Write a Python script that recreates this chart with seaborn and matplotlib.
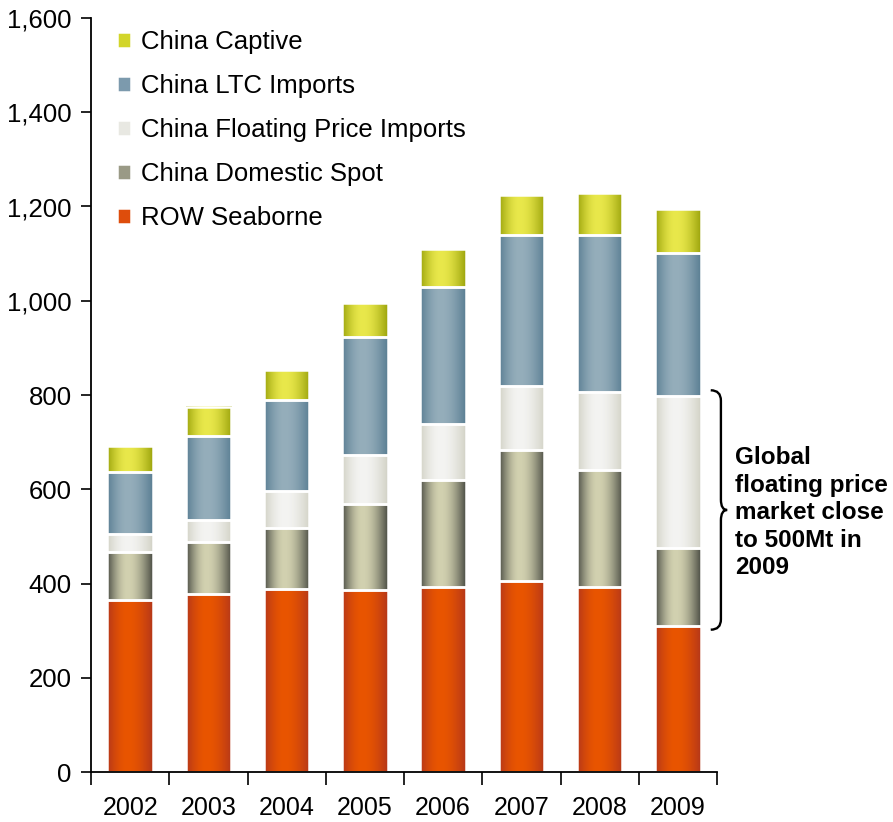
import numpy as np
import pandas as pd
import matplotlib
matplotlib.use('Agg')
import matplotlib.pyplot as plt
from matplotlib.path import Path
from matplotlib.patches import PathPatch
from matplotlib.colors import to_rgb
from matplotlib.ticker import FuncFormatter, FixedLocator
import seaborn as sns

# Data (Mt)
years = [2002, 2003, 2004, 2005, 2006, 2007, 2008, 2009]
row_seaborne = [366, 378, 388, 387, 392, 405, 392, 310]
china_domestic_spot = [100, 110, 130, 182, 228, 278, 249, 166]
china_floating_imports = [40, 47, 78, 103, 118, 137, 165, 322]
china_ltc_imports = [130, 178, 193, 252, 292, 320, 334, 304]
china_captive = [55, 62, 63, 71, 79, 84, 88, 92]

series_names = ['China Captive', 'China LTC Imports', 'China Floating Price Imports',
                'China Domestic Spot', 'ROW Seaborne']
series_values = [china_captive, china_ltc_imports, china_floating_imports,
                 china_domestic_spot, row_seaborne]

# base / edge / centre colours for the cylinder look
base_colors = ['#d2d52a', '#7c9aad', '#e8e8e2', '#9a9a86', '#de4d0c']
edge_colors = ['#9ca40c', '#5a7e93', '#d2d2c6', '#4c4e45', '#b5371a']
center_colors = ['#e9e84b', '#95aebb', '#f4f4f2', '#d2d1b0', '#e95500']

df = pd.DataFrame([
    {'year': y, 'series': name, 'value': v}
    for name, vals in zip(series_names, series_values)
    for y, v in zip(years, vals)
])

sns.set_style('white')
plt.rcParams['font.family'] = ['Liberation Sans', 'DejaVu Sans']
plt.rcParams['text.color'] = 'black'
plt.rcParams['xtick.color'] = 'black'
plt.rcParams['ytick.color'] = 'black'

fig = plt.figure(figsize=(8.93, 8.22), dpi=100)
ax = fig.add_axes([91 / 893, 50 / 822, 626 / 893, 754 / 822])

sns.histplot(data=df, x='year', weights='value', hue='series', hue_order=series_names,
             multiple='stack', discrete=True, shrink=0.58, palette=base_colors,
             alpha=1, edgecolor='white', linewidth=1.8, ax=ax)

# horizontal gradient on every bar segment
t = np.linspace(0, 1, 200)
s = np.where(t <= 0.45, 0.5 * t / 0.45, 0.5 + 0.5 * (t - 0.45) / 0.55)
w = np.sin(np.pi * s) ** 1.0
base_rgb = [np.array(to_rgb(c)) for c in base_colors]
for patch in list(ax.patches):
    if patch.get_height() <= 0:
        continue
    fc = np.array(patch.get_facecolor()[:3])
    i = int(np.argmin([np.sum((fc - b) ** 2) for b in base_rgb]))
    e = np.array(to_rgb(edge_colors[i]))
    c = np.array(to_rgb(center_colors[i]))
    grad = e[None, :] + (c - e)[None, :] * w[:, None]
    x0, y0 = patch.get_x(), patch.get_y()
    ax.imshow(grad[None, :, :], extent=[x0, x0 + patch.get_width(), y0, y0 + patch.get_height()],
              aspect='auto', interpolation='bilinear', zorder=patch.get_zorder() - 0.01)
    patch.set_facecolor('none')

ax.set_xlim(2001.5, 2009.5)
ax.set_ylim(0, 1600)
ax.set_xlabel('')
ax.set_ylabel('')

# axes styling
sns.despine(ax=ax)
for side in ['left', 'bottom']:
    ax.spines[side].set_color('black')
    ax.spines[side].set_linewidth(1.3)
ax.set_yticks(range(0, 1601, 200))
ax.yaxis.set_major_formatter(FuncFormatter(lambda v, p: f'{int(v):,}'))
ax.tick_params(axis='y', which='major', direction='out', length=7, width=1.2,
               color='black', labelcolor='black', labelsize=18.5, pad=7, left=True)
ax.xaxis.set_major_locator(FixedLocator([y - 0.5 for y in years] + [years[-1] + 0.5]))
ax.xaxis.set_minor_locator(FixedLocator(years))
ax.tick_params(axis='x', which='major', direction='out', length=9, width=1.2,
               color='black', labelbottom=False, bottom=True)
ax.xaxis.set_minor_formatter(FuncFormatter(lambda v, p: f'{int(round(v))}'))
ax.tick_params(axis='x', which='minor', length=0, labelsize=18, labelcolor='black', pad=17)

# legend
sns.move_legend(ax, 'upper left', bbox_to_anchor=(117 / 893, 1 - 30 / 822),
                bbox_transform=fig.transFigure, title=None, frameon=False,
                fontsize=18.5, handlelength=0.55, handleheight=0.55, labelcolor='black',
                handletextpad=0.38, labelspacing=0.78, borderpad=0, borderaxespad=0)

# curly brace over the 2009 floating price market
y_bot = row_seaborne[-1] - 8
y_top = row_seaborne[-1] + china_domestic_spot[-1] + china_floating_imports[-1] + 12
y_mid = (y_bot + y_top) / 2
x0, x1, x2 = 2009.42, 2009.55, 2009.63
r = 22
verts = [(x0, y_top), (x1, y_top), (x1, y_top - r), (x1, y_mid + r),
         (x1, y_mid), (x2, y_mid), (x1, y_mid), (x1, y_mid - r),
         (x1, y_bot + r), (x1, y_bot), (x0, y_bot)]
codes = [Path.MOVETO, Path.CURVE3, Path.CURVE3, Path.LINETO,
         Path.CURVE3, Path.CURVE3, Path.CURVE3, Path.CURVE3,
         Path.LINETO, Path.CURVE3, Path.CURVE3]
ax.add_patch(PathPatch(Path(verts, codes), facecolor='none', edgecolor='black',
                       lw=1.7, clip_on=False))

ax.text(2009.73, y_mid - 6, 'Global\nfloating price\nmarket close\nto 500Mt in\n2009',
        ha='left', va='center', fontsize=17.5, fontweight='bold', linespacing=1.25,
        color='black', clip_on=False)

fig.savefig('out.png', dpi=100)
